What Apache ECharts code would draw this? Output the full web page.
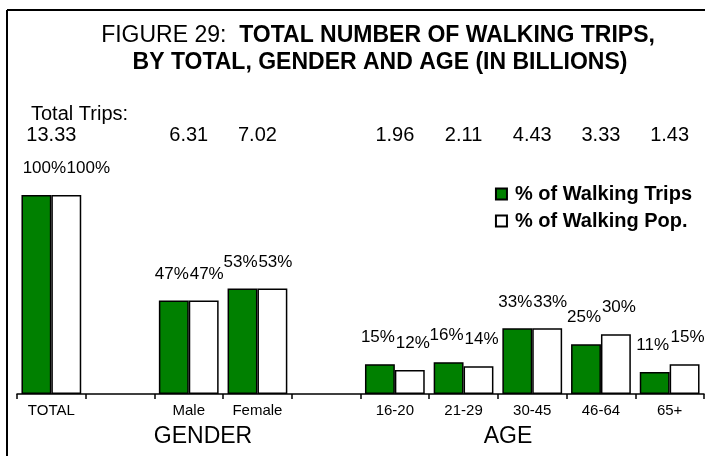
<!DOCTYPE html>
<html>
<head>
<meta charset="utf-8">
<script src="https://cdn.jsdelivr.net/npm/echarts@6/dist/echarts.min.js"></script>
<style>
  html, body { margin: 0; padding: 0; background: #fff; }
  #chart { width: 705px; height: 456px; }
</style>
</head>
<body>
<div id="chart"></div>
<script>
const categories = ['TOTAL', '', 'Male', 'Female', ' ', '16-20', '21-29', '30-45', '46-64', '65+'];
const totalTrips = ['13.33', '', '6.31', '7.02', '', '1.96', '2.11', '4.43', '3.33', '1.43'];
const pctTrips = [100, null, 47, 53, null, 15, 16, 33, 25, 11];
const pctPop = [100, null, 47, 53, null, 12, 14, 33, 30, 15];
const groupLabels = [
  { text: 'GENDER', x: 203 },
  { text: 'AGE', x: 508 }
];

const arial = '"Liberation Sans", Arial, sans-serif';

const chart = echarts.init(document.getElementById('chart'));

// percent labels above each bar; the wide TOTAL pair gets pushed right like the original
function barData(values, shift, totalShift) {
  return values.map((v, i) => {
    if (v == null) return null;
    const item = { value: v };
    item.label = { offset: [i === 0 ? totalShift : shift, 0] };
    return item;
  });
}

const barLabel = {
  show: true,
  position: 'top',
  distance: 18,
  color: '#000',
  fontFamily: arial,
  fontSize: 17,
  formatter: p => p.value + '%'
};

const option = {
  animation: false,
  legend: {
    orient: 'vertical',
    right: 8,
    top: 179,
    itemWidth: 11,
    itemHeight: 11,
    itemGap: 7,
    icon: 'rect',
    textStyle: { fontFamily: arial, fontSize: 20, fontWeight: 'bold', color: '#000', padding: [0, 0, 0, 3] },
    data: ['% of Walking Trips', '% of Walking Pop.']
  },
  grid: { left: 17, right: 1, top: 195, bottom: 62 },
  xAxis: [
    {
      type: 'category',
      data: categories,
      axisLine: { lineStyle: { color: '#000', width: 1.5 } },
      axisTick: { show: true, interval: 0, length: 5, lineStyle: { color: '#000', width: 1.5 } },
      axisLabel: { interval: 0, margin: 9, color: '#000', fontFamily: arial, fontSize: 15 }
    },
    {
      type: 'category',
      position: 'top',
      offset: 42,
      data: categories,
      axisLine: { show: false },
      axisTick: { show: false },
      axisLabel: {
        interval: 0,
        margin: 8,
        color: '#000',
        fontFamily: arial,
        fontSize: 20,
        formatter: (v, i) => totalTrips[i]
      }
    }
  ],
  yAxis: { type: 'value', min: 0, max: 100, show: false },
  graphic: [
    { type: 'line', shape: { x1: 7, y1: 10, x2: 705, y2: 10 }, style: { stroke: '#000', lineWidth: 2 } },
    { type: 'line', shape: { x1: 7, y1: 10, x2: 7, y2: 456 }, style: { stroke: '#000', lineWidth: 2 } },
    {
      type: 'text', x: 378, y: 36,
      style: {
        text: '{n|FIGURE 29:  }{b|TOTAL NUMBER OF WALKING TRIPS,}',
        align: 'center', verticalAlign: 'middle',
        rich: {
          n: { fontFamily: arial, fontSize: 23, fontWeight: 'normal', fill: '#000' },
          b: { fontFamily: arial, fontSize: 23, fontWeight: 'bold', fill: '#000' }
        }
      }
    },
    {
      type: 'text', x: 380, y: 63,
      style: {
        text: 'BY TOTAL, GENDER AND AGE (IN BILLIONS)',
        align: 'center', verticalAlign: 'middle',
        fontFamily: arial, fontSize: 23, fontWeight: 'bold', fill: '#000'
      }
    },
    {
      type: 'text', x: 31, y: 114,
      style: { text: 'Total Trips:', fontFamily: arial, fontSize: 20, fill: '#000', verticalAlign: 'middle' }
    },
    ...groupLabels.map(g => ({
      type: 'text', x: g.x, y: 437,
      style: { text: g.text, fontFamily: arial, fontSize: 23, fill: '#000', align: 'center', verticalAlign: 'middle' }
    }))
  ],
  series: [
    {
      name: '% of Walking Trips',
      type: 'bar',
      data: barData(pctTrips, -2, 8),
      barGap: 0,
      barCategoryGap: '13%',
      itemStyle: { color: '#008000', borderColor: '#000', borderWidth: 1.5 },
      label: barLabel
    },
    {
      name: '% of Walking Pop.',
      type: 'bar',
      data: barData(pctPop, 3, 22),
      barGap: 0,
      barCategoryGap: '13%',
      itemStyle: { color: '#ffffff', borderColor: '#000', borderWidth: 1.5 },
      label: barLabel
    }
  ]
};

chart.setOption(option);
</script>
</body>
</html>
